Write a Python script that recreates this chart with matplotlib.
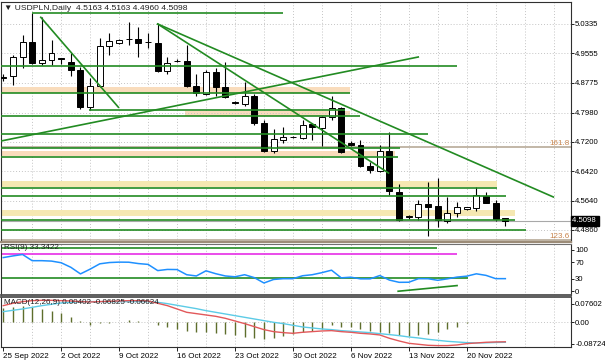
import numpy as np
import matplotlib.pyplot as plt
from matplotlib.transforms import blended_transform_factory

#==============================================================================
#DATA
#==============================================================================

opens  = [4.8912, 4.8952, 4.9465, 4.9848, 4.9306, 4.9378, 4.9423, 4.9332, 4.9112, 4.8136,
          4.8686, 4.9750, 4.9822, 4.9923, 4.9928, 4.9864, 4.9822, 4.9093, 4.9351, 4.9359,
          4.8694, 4.8473, 4.9050, 4.8667, 4.8261, 4.8207, 4.8420, 4.7710, 4.6965, 4.7250,
          4.7322, 4.7295, 4.7668, 4.7561, 4.7854, 4.8093, 4.7178, 4.7117, 4.6558, 4.6433,
          4.6965, 4.5875, 4.5215, 4.5194, 4.5548, 4.5495, 4.5103, 4.5316, 4.5407, 4.5433,
          4.5760, 4.5582, 4.5163]
highs  = [4.9005, 4.9511, 5.0042, 5.0636, 5.0513, 4.9910, 4.9431, 4.9572, 4.9199, 4.8907,
          4.9955, 5.0088, 4.9949, 5.0396, 5.0263, 5.0096, 5.0335, 4.9465, 4.9396, 4.9777,
          4.9005, 4.9112, 4.9157, 4.9332, 4.8287, 4.8800, 4.8473, 4.7782, 4.7535, 4.7604,
          4.7343, 4.7782, 4.7694, 4.7888, 4.8420, 4.8120, 4.7210, 4.7250, 4.6673, 4.7117,
          4.7471, 4.6072, 4.5255, 4.5654, 4.6141, 4.6231, 4.5742, 4.5609, 4.5460, 4.6008,
          4.5875, 4.5654, 4.5163]
lows   = [4.8819, 4.8713, 4.9157, 4.9271, 4.9245, 4.9245, 4.9271, 4.8952, 4.8074, 4.8048,
          4.8652, 4.9511, 4.9790, 4.9777, 4.9465, 4.9697, 4.9066, 4.9005, 4.9311, 4.8652,
          4.8420, 4.8447, 4.8420, 4.8359, 4.8207, 4.8154, 4.7649, 4.6939, 4.6912, 4.7162,
          4.7303, 4.7269, 4.7250, 4.7090, 4.7782, 4.6912, 4.7090, 4.6524, 4.6364, 4.6407,
          4.5787, 4.5096, 4.5141, 4.5122, 4.4683, 4.4944, 4.5035, 4.5194, 4.5388, 4.5370,
          4.5566, 4.5103, 4.4960]
closes = [4.8904, 4.9449, 4.9848, 4.9306, 4.9378, 4.9556, 4.9412, 4.9112, 4.8120, 4.8686,
          4.9750, 4.9891, 4.9909, 4.9931, 4.9838, 4.9848, 4.9093, 4.9306, 4.9346, 4.8686,
          4.8492, 4.9050, 4.8667, 4.8402, 4.8226, 4.8420, 4.7710, 4.6965, 4.7268, 4.7322,
          4.7317, 4.7649, 4.7588, 4.7854, 4.8093, 4.6939, 4.7117, 4.6558, 4.6452, 4.6965,
          4.5902, 4.5122, 4.5207, 4.5548, 4.5476, 4.5122, 4.5316, 4.5476, 4.5460, 4.5787,
          4.5582, 4.5141, 4.5098]

rsi = [81.5, 85.5, 89.0, 74.0, 74.0, 73.0, 69.0, 58.0, 42.0, 53.5,
       66.4, 69.5, 70.5, 70.3, 67.0, 65.0, 50.0, 52.8, 52.5, 40.0,
       37.0, 49.5, 42.5, 37.0, 35.0, 40.0, 33.0, 20.0, 28.5, 30.4,
       30.4, 37.5, 40.0, 45.0, 51.0, 32.5, 34.0, 30.0, 30.0, 38.0,
       27.0, 21.6, 21.8, 30.4, 30.3, 26.5, 30.0, 34.3, 36.5, 42.2,
       38.4, 30.5, 30.5]

macd_main = [0.0680, 0.0776, 0.0844, 0.0884, 0.0898, 0.0898, 0.0884, 0.0871, 0.0844, 0.0830,
             0.0844, 0.0857, 0.0871, 0.0884, 0.0884, 0.0871, 0.0776, 0.0680, 0.0544, 0.0408,
             0.0354, 0.0299, 0.0245, 0.0163, 0.0054, -0.0054, -0.0177, -0.0299, -0.0381, -0.0422,
             -0.0449, -0.0408, -0.0381, -0.0354, -0.0340, -0.0381, -0.0408, -0.0449, -0.0476, -0.0517,
             -0.0653, -0.0762, -0.0857, -0.0898, -0.0939, -0.0952, -0.0952, -0.0925, -0.0871, -0.0844,
             -0.0816, -0.0803, -0.0796]
macd_signal = [0.0435, 0.0490, 0.0544, 0.0612, 0.0680, 0.0735, 0.0789, 0.0816, 0.0844, 0.0844,
               0.0844, 0.0844, 0.0844, 0.0844, 0.0844, 0.0844, 0.0816, 0.0762, 0.0694, 0.0626,
               0.0558, 0.0476, 0.0408, 0.0340, 0.0272, 0.0204, 0.0136, 0.0068, 0.0000, -0.0054,
               -0.0122, -0.0190, -0.0231, -0.0272, -0.0299, -0.0340, -0.0367, -0.0395, -0.0422, -0.0463,
               -0.0503, -0.0544, -0.0599, -0.0639, -0.0694, -0.0735, -0.0776, -0.0803, -0.0830, -0.0844,
               -0.0837, -0.0823, -0.0816]
macd_hist = [0.0599, 0.0639, 0.0680, 0.0639, 0.0544, 0.0476, 0.0395, 0.0231, 0.0054, -0.0109,
             -0.0041, -0.0014, 0.0027, 0.0082, 0.0041, 0.0014, -0.0109, -0.0177, -0.0286, -0.0340,
             -0.0381, -0.0408, -0.0435, -0.0463, -0.0517, -0.0585, -0.0653, -0.0680, -0.0626, -0.0558,
             -0.0476, -0.0381, -0.0354, -0.0286, -0.0109, -0.0190, -0.0204, -0.0286, -0.0340, -0.0381,
             -0.0449, -0.0503, -0.0544, -0.0517, -0.0490, -0.0408, -0.0286, -0.0190, -0.0027, -0.0007,
             0.0014, 0.0014, 0.0014]

week_labels = ['25 Sep 2022', '2 Oct 2022', '9 Oct 2022', '16 Oct 2022', '23 Oct 2022',
               '30 Oct 2022', '6 Nov 2022', '13 Nov 2022', '20 Nov 2022']
price_ticks = [5.0335, 4.9555, 4.8775, 4.7980, 4.7200, 4.6420, 4.5640, 4.4860]

#chart objects: (price, first bar, last bar)
h_levels = [(5.0636, 3.0, 29.0), (4.9205, -0.3, 47.0), (4.8508, -0.3, 35.9),
            (4.8048, 8.9, 35.4), (4.7888, -0.3, 37.0), (4.7410, -0.3, 44.0),
            (4.7037, -0.3, 41.1), (4.6806, -0.3, 40.9), (4.5965, -0.3, 51.1),
            (4.5747, -0.3, 52.1), (4.5125, -0.3, 53.0), (4.4843, -0.3, 54.1)]
#zones: (low, high, first bar, last bar)
orange_zones = [(4.8508, 4.8660, -0.3, 35.9), (4.7888, 4.8021, 18.8, 35.9),
                (4.6816, 4.6957, -0.3, 40.6)]
yellow_zones = [(4.5992, 4.6160, -0.3, 51.1), (4.5229, 4.5388, -0.3, 53.0)]
#trendlines: (bar1, price1, bar2, price2)
trendlines = [(3.89, 5.0513, 11.93, 4.8120), (16.0, 5.0335, 56.97, 4.5734),
              (16.0, 5.0335, 39.9, 4.6372), (-0.23, 4.7223, 42.98, 4.9457)]
fibo = [(4.7064, '161.8'), (4.4577, '123.6')]

rsi_levels = [(105.5, 44.95, 'forestgreen'), (89.7, 47.0, '#e62ee6'), (32.1, 48.1, 'forestgreen')]
rsi_trend = (40.9, 0.0, 47.0, 13.7)

#==============================================================================
#SETTINGS
#==============================================================================

plt.rcParams['font.family'] = ['Liberation Sans', 'DejaVu Sans']
fs = 5.8
green = '#228b22'
grid_kw = dict(color='#c4c4c4', linestyle=(0, (1, 2)), linewidth=0.7)
W, H = 605, 363
xlims = (-0.23, 58.8)

#==============================================================================
#PLOTTING
#==============================================================================

f = plt.figure(figsize=(6.05, 3.63), dpi=100)

def px_axes(x0, y0, x1, y1):
    return f.add_axes([x0 / W, 1 - y1 / H, (x1 - x0) / W, (y1 - y0) / H])

ax = px_axes(1, 2, 571, 241.5)
ax_rsi = px_axes(1, 243.5, 571, 295)
ax_macd = px_axes(1, 297, 571, 346.5)

x = np.arange(len(closes))
o, hi, lo, c = map(np.array, (opens, highs, lows, closes))

for a in (ax, ax_rsi, ax_macd):
    a.set_xlim(*xlims)
    for g in range(3, 59, 3):
        a.axvline(g, zorder=0, **grid_kw)
    a.yaxis.tick_right()
    a.tick_params(axis='y', labelsize=fs - 0.2, length=2, pad=1, width=0.6)
    a.tick_params(axis='x', length=0)
    for s in a.spines.values():
        s.set_color('#303030')
        s.set_linewidth(0.8)

#main chart
ax.set_ylim(4.4550, 5.0920)
ax.set_yticks(price_ticks)
ax.set_yticklabels(['%.4f' % p for p in price_ticks])
ax.set_xticks([])
ax.grid(axis='y', zorder=0, **grid_kw)

for lo_, hi_, s, e in orange_zones:
    ax.fill_between([s, e], lo_, hi_, color='#f9dcbc', lw=0, zorder=1)
for lo_, hi_, s, e in yellow_zones:
    ax.fill_between([s, e], lo_, hi_, color='#f5e8b2', lw=0, zorder=1)

for p, lab in fibo:
    ax.axhline(p, color='#b8aa98', lw=1.2, zorder=1.5)
tr = blended_transform_factory(ax.transAxes, ax.transData)
ax.text(0.997, fibo[0][0] + 0.001, fibo[0][1], transform=tr, ha='right', va='bottom',
        fontsize=fs, color='#c8844c')
ax.text(0.997, fibo[1][0] + 0.001, fibo[1][1], transform=tr, ha='right', va='bottom',
        fontsize=fs, color='#c8844c')

ax.axhline(closes[-1], color='#a8a8a8', lw=0.8, zorder=1.5)

#candles
ax.vlines(x, lo, hi, color='k', lw=0.8, zorder=3)
body_bot = np.minimum(o, c)
body_h = np.maximum(np.abs(c - o), 0.0005)
ax.bar(x, body_h, bottom=body_bot, width=0.62,
       color=np.where(c >= o, 'white', 'black'), edgecolor='k', linewidth=0.7, zorder=4)

for p, s, e in h_levels:
    ax.hlines(p, s, e, color=green, lw=1.2, zorder=5)
for x1, p1, x2, p2 in trendlines:
    ax.plot([x1, x2], [p1, p2], color=green, lw=1.2, zorder=5)

ax.text(3 / 570, 1 - 3 / 239.5, '\u25bc USDPLN,Daily  %.4f %.4f %.4f %.4f' % (opens[-1], highs[-1], lows[-1], closes[-1]),
        transform=ax.transAxes, ha='left', va='top', fontsize=fs + 0.3, color='#202020', zorder=6)
ax.text(1.002, closes[-1], '4.5098 ', transform=tr, ha='left', va='center', fontsize=fs - 0.2,
        color='white', zorder=6, clip_on=False,
        bbox=dict(boxstyle='square,pad=0.15', fc='black', ec='black'))
ax.spines['bottom'].set_color('#9c8c78')
ax.spines['bottom'].set_linewidth(1.6)

#RSI
ax_rsi.set_ylim(-9.1, 115.6)
ax_rsi.set_yticks([100, 70, 30, 0])
ax_rsi.set_xticks([])
for v, e, col in rsi_levels:
    ax_rsi.hlines(v, -0.3, e, color=col, lw=1.2, zorder=2)
ax_rsi.plot([rsi_trend[0], rsi_trend[2]], [rsi_trend[1], rsi_trend[3]], color=green, lw=1.2, zorder=2)
ax_rsi.plot(x, rsi, color='#1e90ff', lw=1.1, zorder=3)
ax_rsi.text(3 / 570, 0.985, 'RSI(9) 33.3422', transform=ax_rsi.transAxes, ha='left', va='top',
            fontsize=fs, color='#202020', zorder=6)
ax_rsi.spines['top'].set_color('#707070')
ax_rsi.spines['bottom'].set_color('#505050')
ax_rsi.spines['bottom'].set_linewidth(1.3)
ax_rsi.spines['bottom'].set_linestyle((0, (2, 1)))

#MACD
ax_macd.set_ylim(-0.0988, 0.1033)
ax_macd.set_yticks([0.07602, 0.0, -0.08724])
ax_macd.set_yticklabels(['0.07602', '0.00', '-0.08724'])
ax_macd.axhline(0, zorder=0, **grid_kw)
ax_macd.vlines(x, 0, macd_hist, color='#5e6e2c', lw=1.0, zorder=2)
ax_macd.plot(x, macd_signal, color='#5ccbe6', lw=1.0, zorder=3)
ax_macd.plot(x, macd_main, color='#e2585a', lw=1.0, zorder=3)
ax_macd.text(3 / 570, 0.96, 'MACD(12,26,9) 0.00402 -0.06825 -0.06624', transform=ax_macd.transAxes,
             ha='left', va='top', fontsize=fs, color='#202020', zorder=6)
ax_macd.spines['top'].set_color('#505050')
ax_macd.spines['top'].set_linewidth(1.3)
ax_macd.spines['top'].set_linestyle((0, (2, 1)))

ax_macd.set_xticks(np.arange(0, 49, 6))
ax_macd.set_xticklabels(week_labels, ha='left')
ax_macd.tick_params(axis='x', labelsize=fs, length=3, pad=2, width=0.6)

f.savefig('out.png', dpi=100)
